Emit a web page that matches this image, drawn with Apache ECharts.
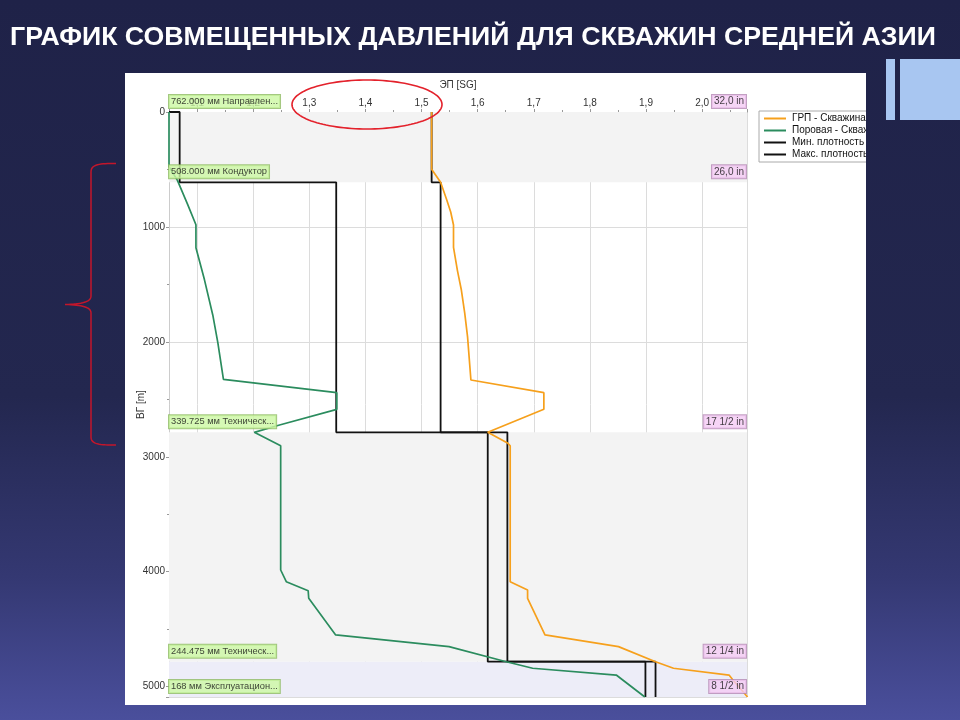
<!DOCTYPE html>
<html>
<head>
<meta charset="utf-8">
<script src="https://cdn.jsdelivr.net/npm/echarts@6/dist/echarts.min.js"></script>
<style>html,body{margin:0;padding:0;background:#1f2248;}#c{width:960px;height:720px;}</style>
</head>
<body>
<div id="c"></div>
<script>
// ---------- data ----------
const xMin = 1.05, xMax = 2.08;          // ЭП [SG] axis extent
const depthMax = 5090;                   // ВГ [m] axis extent
const xTickStep = 0.1;
const yTickStep = 1000;

const titleText = 'ГРАФИК СОВМЕЩЕННЫХ ДАВЛЕНИЙ ДЛЯ СКВАЖИН СРЕДНЕЙ АЗИИ';
const seriesNames = ['ГРП - Скважина 3', 'Поровая - Скважина 3', 'Мин. плотность', 'Макс. плотность'];

// [SG, depth m]
const grpData = [
  [1.518, 0], [1.518, 499], [1.534, 612], [1.545, 766], [1.552, 870], [1.557, 983],
  [1.557, 1177], [1.564, 1380], [1.571, 1549], [1.577, 1750], [1.582, 1955], [1.588, 2332],
  [1.718, 2442], [1.718, 2587], [1.618, 2787], [1.654, 2883], [1.658, 2904], [1.658, 4087],
  [1.689, 4159], [1.689, 4231], [1.720, 4550], [1.851, 4652], [1.917, 4783], [1.949, 4840],
  [2.048, 4899], [2.055, 4942], [2.081, 5090]
];
const poreData = [
  [1.05, 0], [1.05, 475], [1.065, 595], [1.083, 802], [1.098, 981], [1.098, 1181],
  [1.113, 1456], [1.128, 1766], [1.137, 2007], [1.147, 2327], [1.349, 2442], [1.349, 2587],
  [1.247, 2723], [1.202, 2787], [1.249, 2904], [1.249, 3985], [1.259, 4087], [1.298, 4165],
  [1.299, 4231], [1.347, 4550], [1.549, 4652], [1.651, 4783], [1.698, 4840], [1.847, 4899],
  [1.898, 5090]
];
const minDensity = [
  [1.05, 0], [1.069, 0], [1.069, 612], [1.348, 612], [1.348, 2787], [1.618, 2787],
  [1.618, 4783], [1.899, 4783], [1.899, 5090]
];
const maxDensity = [
  [1.518, 0], [1.518, 612], [1.534, 612], [1.534, 2787], [1.653, 2787],
  [1.653, 4783], [1.917, 4783], [1.917, 5090]
];

const casingDepths = [0, 612, 2787, 4783, 5090];
const casingNames = ['762.000 мм Направлен...', '508.000 мм Кондуктор', '339.725 мм Техническ...', '244.475 мм Техническ...', '168 мм Эксплуатацион...'];
const bitSizes = ['32,0 in', '26,0 in', '17 1/2 in', '12 1/4 in', '8 1/2 in'];

// ---------- styling ----------
const FONT = '"Liberation Sans", Arial, sans-serif';
const bandColors = ['#f3f3f3', null, '#f3f3f3', '#ededf8'];
const bgGradient = {
  type: 'linear', x: 0, y: 0, x2: 0, y2: 720, global: true,
  colorStops: [
    { offset: 0, color: '#1f2248' },
    { offset: 0.55, color: '#23274f' },
    { offset: 0.8, color: '#343872' },
    { offset: 1, color: '#4a4f9c' }
  ]
};

const bands = [];
for (let i = 0; i < casingDepths.length - 1; i++) {
  if (bandColors[i]) {
    bands.push([{ yAxis: casingDepths[i], itemStyle: { color: bandColors[i] } }, { yAxis: casingDepths[i + 1] }]);
  }
}

// annotation shapes (ellipse + brace) as polylines
function ellipsePts(cx, cy, rx, ry) {
  const p = [];
  for (let i = 0; i <= 120; i++) { const a = i / 120 * Math.PI * 2; p.push([cx + rx * Math.cos(a), cy + ry * Math.sin(a)]); }
  return p;
}
function bez(p0, p1, p2, p3, out) {
  for (let i = 0; i <= 16; i++) {
    const t = i / 16, u = 1 - t;
    out.push([u*u*u*p0[0] + 3*u*u*t*p1[0] + 3*u*t*t*p2[0] + t*t*t*p3[0],
              u*u*u*p0[1] + 3*u*u*t*p1[1] + 3*u*t*t*p2[1] + t*t*t*p3[1]]);
  }
}
const bracePts = [];
bez([116,163.5],[100,163.5],[91,164],[91,172], bracePts);
bracePts.push([91,296]);
bez([91,296],[91,302],[82,304],[65,304.5], bracePts);
bez([65,304.5],[82,305],[91,307],[91,313], bracePts);
bracePts.push([91,437]);
bez([91,437],[91,444.5],[100,445],[116,445], bracePts);

const chart = echarts.init(document.getElementById('c'), null, { renderer: 'canvas' });

const option = {
  animation: false,
  textStyle: { fontFamily: FONT },
  graphic: [
    { type: 'rect', z: -20, shape: { x: 0, y: 0, width: 960, height: 720 }, style: { fill: bgGradient } },
    { type: 'rect', z: -19, shape: { x: 125, y: 73, width: 741, height: 632 }, style: { fill: '#ffffff' } },
    { type: 'text', z: 50, x: 10, y: 38, style: { text: titleText, fill: '#ffffff', font: 'bold 26.7px ' + FONT, verticalAlign: 'middle' } },
    { type: 'polyline', z: 60, shape: { points: ellipsePts(367, 104.5, 75, 24.5) }, style: { stroke: '#e3212b', fill: null, lineWidth: 1.6 } },
    { type: 'polyline', z: 60, shape: { points: bracePts }, style: { stroke: '#c3162b', fill: null, lineWidth: 1.5 } },
    { type: 'rect', z: 100, shape: { x: 866, y: 95, width: 94, height: 80 }, style: { fill: bgGradient } },
    { type: 'rect', z: 101, shape: { x: 886, y: 59, width: 9, height: 61 }, style: { fill: '#a8c6f1' } },
    { type: 'rect', z: 101, shape: { x: 900, y: 59, width: 60, height: 61 }, style: { fill: '#a8c6f1' } }
  ],
  grid: { left: 169, top: 112, width: 578, height: 585 },
  legend: {
    data: seriesNames,
    orient: 'vertical',
    left: 759, top: 111,
    icon: 'rect',
    itemWidth: 22, itemHeight: 2, itemGap: 1,
    padding: [2, 5, 2, 5],
    borderColor: '#aaaaaa', borderWidth: 1, borderRadius: 0,
    backgroundColor: '#ffffff',
    textStyle: { fontSize: 10, color: '#111', lineHeight: 11, fontFamily: FONT, padding: [0, 0, 0, 1] }
  },
  xAxis: {
    type: 'value', position: 'top', min: xMin, max: xMax, splitNumber: 10,
    name: 'ЭП [SG]', nameLocation: 'middle', nameGap: 22,
    nameTextStyle: { fontSize: 10, color: '#333', fontFamily: FONT },
    axisLine: { show: true, lineStyle: { color: '#999' } },
    axisTick: { show: true, length: 3, lineStyle: { color: '#999' } },
    minorTick: { show: true, splitNumber: 2, length: 2, lineStyle: { color: '#999' } },
    axisLabel: {
      fontSize: 10, color: '#333', margin: 4, interval: 0, showMinLabel: false, showMaxLabel: false,
      formatter: v => (Math.abs(Math.round(v / xTickStep) * xTickStep - v) < 1e-6) ? v.toFixed(1).replace('.', ',') : ''
    },
    splitLine: { show: true, lineStyle: { color: '#dcdcdc', width: 1 } },
    minorSplitLine: { show: false }
  },
  yAxis: {
    type: 'value', inverse: true, min: 0, max: depthMax, interval: yTickStep,
    name: 'ВГ [m]', nameLocation: 'middle', nameGap: 23, nameMoveOverlap: false,
    nameTextStyle: { fontSize: 10, color: '#333', fontFamily: FONT },
    axisLine: { show: true, lineStyle: { color: '#cccccc' } },
    axisTick: { show: true, length: 3, lineStyle: { color: '#999' } },
    minorTick: { show: true, splitNumber: 2, length: 2, lineStyle: { color: '#999' } },
    axisLabel: {
      fontSize: 10, color: '#333', margin: 4, showMaxLabel: true,
      formatter: v => (v % yTickStep === 0) ? String(v) : ''
    },
    splitLine: { show: true, lineStyle: { color: '#dcdcdc', width: 1 } }
  },
  series: [
    {
      name: 'bands', type: 'line', data: [[xMin, 0]], symbol: 'none', silent: true, z: 1,
      lineStyle: { opacity: 0 },
      markArea: { silent: true, data: bands }
    },
    {
      name: seriesNames[2], type: 'line', data: minDensity, symbol: 'none', z: 3,
      lineStyle: { color: '#111111', width: 1.8 }, itemStyle: { color: '#111111' }
    },
    {
      name: seriesNames[3], type: 'line', data: maxDensity, symbol: 'none', z: 3,
      lineStyle: { color: '#111111', width: 1.8 }, itemStyle: { color: '#111111' }
    },
    {
      name: seriesNames[1], type: 'line', data: poreData, symbol: 'none', z: 4,
      lineStyle: { color: '#2b8c5e', width: 1.7 }, itemStyle: { color: '#2b8c5e' }
    },
    {
      name: seriesNames[0], type: 'line', data: grpData, symbol: 'none', z: 5,
      lineStyle: { color: '#f6a01c', width: 1.7 }, itemStyle: { color: '#f6a01c' }
    },
    {
      name: 'casing', type: 'scatter', z: 10, symbolSize: 2, silent: true,
      itemStyle: { color: 'rgba(0,0,0,0)' },
      data: casingDepths.map((d, i) => ({ name: casingNames[i], value: [xMin, d] })),
      label: {
        show: true, position: [1, -16], formatter: '{b}', fontSize: 9.3, color: '#111', lineHeight: 11,
        backgroundColor: '#ccf7a3', borderColor: '#8dba62', borderWidth: 1, padding: [1, 2, 1, 2]
      }
    },
    {
      name: 'bits', type: 'scatter', z: 10, symbolSize: 2, silent: true,
      itemStyle: { color: 'rgba(0,0,0,0)' },
      data: casingDepths.map((d, i) => ({ name: bitSizes[i], value: [xMax, d] })),
      label: {
        show: true, position: [0, -16], align: 'right', formatter: '{b}', fontSize: 10, color: '#111', lineHeight: 11,
        backgroundColor: '#f4cbf4', borderColor: '#b488b4', borderWidth: 1, padding: [1, 2, 1, 2]
      }
    }
  ]
};
chart.setOption(option);
</script>
</body>
</html>
